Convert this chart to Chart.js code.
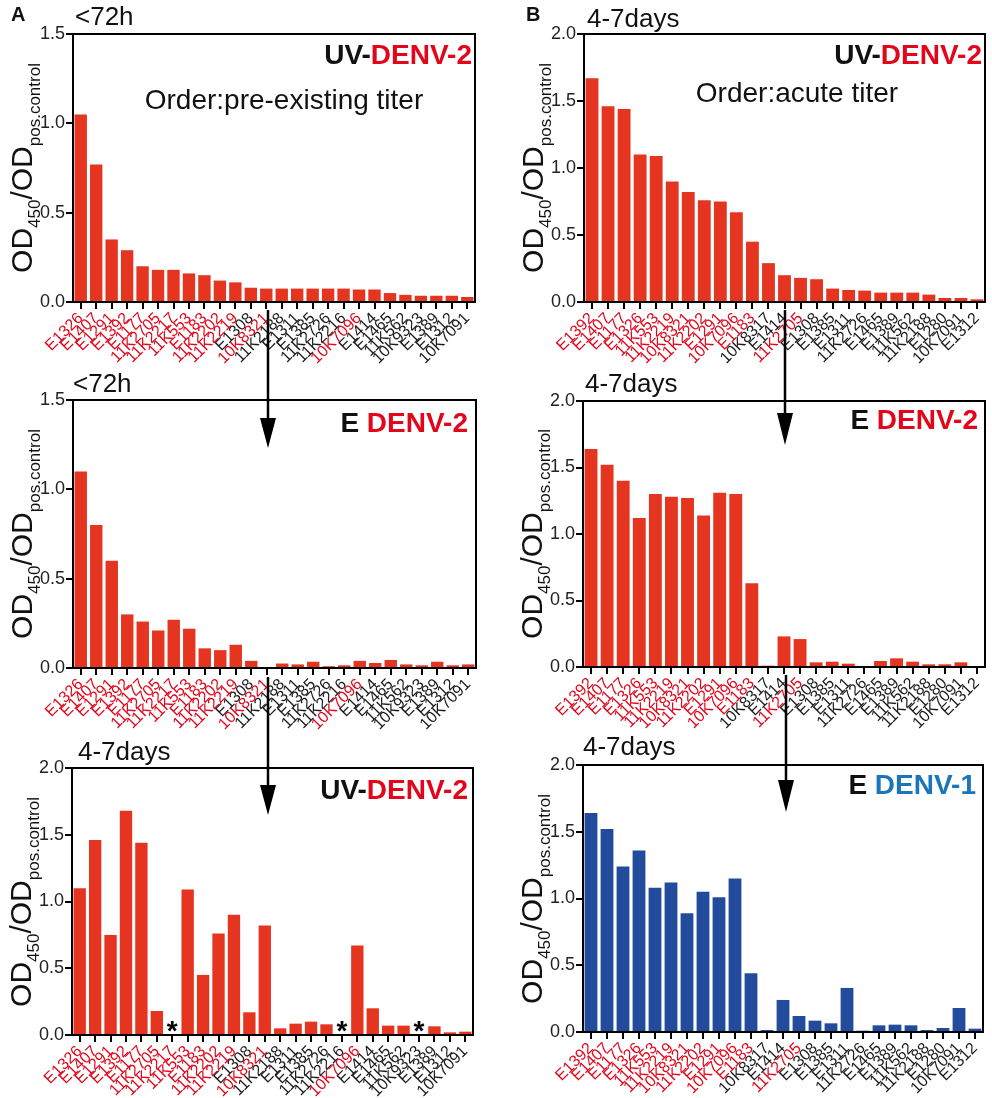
<!DOCTYPE html>
<html>
<head>
<meta charset="utf-8">
<script src="https://cdn.jsdelivr.net/npm/chart.js@4.4.1/dist/chart.umd.min.js"></script>
<style>
  html, body { margin: 0; padding: 0; background: #fff; }
  body { width: 992px; height: 1098px; position: relative; overflow: hidden; font-family: "Liberation Sans", Arial, sans-serif; color: #111; }
  .panel { position: absolute; z-index: 1; }
  .txt { position: absolute; line-height: 1; white-space: nowrap; z-index: 3; }
  .letter { font-weight: bold; font-size: 20px; }
  .when { font-size: 26px; }
  .tag { font-weight: bold; font-size: 28px; }
  .order { font-size: 28px; transform: translateX(-50%); }
  .red { color: #e3061b; }
  .blue { color: #1b75bb; }
  .ytitle { position: absolute; z-index: 3; font-size: 30px; line-height: 1; white-space: nowrap; transform: translate(-50%, -50%) rotate(-90deg); }
  .ytitle span { font-size: 17px; vertical-align: -0.45em; }
  svg { position: absolute; left: 0; top: 0; z-index: 2; }
</style>
</head>
<body>

<!-- panel letters and time windows -->
<div class="txt letter" style="left:11px; top:4px">A</div>
<div class="txt letter" style="left:526px; top:4px">B</div>
<div class="txt when" style="left:75px; top:3px">&lt;72h</div>
<div class="txt when" style="left:587px; top:5px">4-7days</div>
<div class="txt when" style="left:73px; top:370px">&lt;72h</div>
<div class="txt when" style="left:585px; top:370px">4-7days</div>
<div class="txt when" style="left:78px; top:738px">4-7days</div>
<div class="txt when" style="left:583px; top:733px">4-7days</div>

<!-- antigen tags -->
<div class="txt tag" style="right:520px; top:41px">UV-<span class="red">DENV-2</span></div>
<div class="txt tag" style="right:10px; top:41px">UV-<span class="red">DENV-2</span></div>
<div class="txt tag" style="right:524px; top:409px">E <span class="red">DENV-2</span></div>
<div class="txt tag" style="right:14px; top:406px">E <span class="red">DENV-2</span></div>
<div class="txt tag" style="right:524px; top:776px">UV-<span class="red">DENV-2</span></div>
<div class="txt tag" style="right:16px; top:771px">E <span class="blue">DENV-1</span></div>

<div class="txt order" style="left:284px; top:86px">Order:pre-existing titer</div>
<div class="txt order" style="left:797px; top:79px">Order:acute titer</div>

<!-- arrows between rows -->
<svg width="992" height="1098">
  <g stroke="#000" stroke-width="2.5">
    <line x1="268" y1="310" x2="268" y2="420"/>
    <line x1="268" y1="677" x2="268" y2="787"/>
    <line x1="785" y1="310" x2="785" y2="415"/>
    <line x1="786" y1="675" x2="786" y2="782"/>
  </g>
  <g fill="#000">
    <polygon points="260,418 276,418 268,448"/>
    <polygon points="260,785 276,785 268,815"/>
    <polygon points="777,413 793,413 785,445"/>
    <polygon points="778,780 794,780 786,812"/>
  </g>
</svg>

<script>
// samples, ordered by pre-existing titer (panel A) and by acute titer (panel B)
const labelsPreExisting = ['E1326', 'E1407', 'E1291', 'E1392', 'E1177', '11K2705', '11K2217', '11K553', 'E1183', '11K2202', '11K2219', 'E1308', '10K8321', '11K2188', 'E1311', 'E1385', '11K2726', '11K2216', '10K7096', 'E1414', 'E1465', '11K562', '10K9323', 'E1389', 'E1312', '10K7091'];
const labelsAcute = ['E1392', 'E1407', 'E1177', 'E1326', '11K553', '11K2219', '10K8321', '11K2202', 'E1291', '10K7096', 'E1183', '10K8317', 'E1414', '11K2705', 'E1308', 'E1385', 'E1311', '11K2726', 'E1465', 'E1389', '11K562', '11K2188', 'E1280', '10K7091', 'E1312'];

// samples written in red on the axes
const redSamples = ['E1326', 'E1407', 'E1291', 'E1392', 'E1177', '11K2705', '11K2217', '11K553', 'E1183', '11K2202', '11K2219', '10K8321', '10K7096'];

// OD450/ODpos.control, null = not tested (*)
const uvDenv2Early = [1.05, 0.77, 0.35, 0.29, 0.20, 0.18, 0.18, 0.16, 0.15, 0.12, 0.11, 0.08, 0.075, 0.075, 0.075, 0.075, 0.075, 0.075, 0.07, 0.07, 0.05, 0.04, 0.035, 0.035, 0.035, 0.028];
const eDenv2Early = [1.10, 0.80, 0.60, 0.30, 0.26, 0.21, 0.27, 0.22, 0.11, 0.10, 0.13, 0.04, 0.005, 0.025, 0.02, 0.035, 0.01, 0.015, 0.04, 0.028, 0.045, 0.02, 0.015, 0.035, 0.015, 0.02];
const uvDenv2LateA = [1.10, 1.46, 0.75, 1.68, 1.44, 0.18, null, 1.09, 0.45, 0.76, 0.90, 0.17, 0.82, 0.05, 0.085, 0.10, 0.08, null, 0.67, 0.20, 0.07, 0.07, null, 0.065, 0.02, 0.025];
const uvDenv2Acute = [1.67, 1.46, 1.44, 1.10, 1.09, 0.90, 0.82, 0.76, 0.75, 0.67, 0.45, 0.29, 0.20, 0.18, 0.17, 0.10, 0.09, 0.085, 0.07, 0.07, 0.07, 0.055, 0.03, 0.03, 0.02];
const eDenv2Acute = [1.64, 1.52, 1.40, 1.12, 1.30, 1.28, 1.27, 1.14, 1.31, 1.30, 0.63, 0.01, 0.23, 0.21, 0.035, 0.04, 0.025, 0.005, 0.045, 0.065, 0.04, 0.02, 0.02, 0.035, 0.005];
const eDenv1Acute = [1.64, 1.52, 1.24, 1.36, 1.08, 1.12, 0.89, 1.05, 1.01, 1.15, 0.44, 0.015, 0.24, 0.12, 0.085, 0.065, 0.33, 0.01, 0.05, 0.055, 0.05, 0.015, 0.03, 0.18, 0.025];

const BAR_RED = '#e5341f';
const BAR_BLUE = '#234b9c';
const LABEL_RED = '#e3061b';

const Y_W = 40;   // room for y tick labels
const X_H = 70;   // room for rotated sample names
const PAD_T = 12;
const PAD_R = 6;

// frame around the plot area
const framePlugin = {
  id: 'frame',
  afterDraw(chart) {
    const { ctx, chartArea: a } = chart;
    ctx.save();
    ctx.strokeStyle = '#000';
    ctx.lineWidth = 2;
    ctx.strokeRect(a.left, a.top, a.right - a.left, a.bottom - a.top);
    ctx.restore();
  }
};

// asterisk for samples without a value
const starPlugin = {
  id: 'stars',
  afterDatasetsDraw(chart) {
    const { ctx, scales } = chart;
    const vals = chart.data.datasets[0].data;
    ctx.save();
    ctx.font = 'bold 28px "Liberation Sans", Arial';
    ctx.fillStyle = '#000';
    ctx.textAlign = 'center';
    ctx.textBaseline = 'alphabetic';
    vals.forEach((v, i) => {
      if (v === null) {
        ctx.fillText('*', scales.x.getPixelForValue(i), scales.y.getPixelForValue(0) + 5);
      }
    });
    ctx.restore();
  }
};

function addYTitle(cx, cy) {
  const d = document.createElement('div');
  d.className = 'ytitle';
  d.style.left = cx + 'px';
  d.style.top = cy + 'px';
  d.innerHTML = 'OD<span>450</span>/OD<span>pos.control</span>';
  document.body.appendChild(d);
}

function makeChart(p) {
  const wrap = document.createElement('div');
  wrap.className = 'panel';
  wrap.style.left = (p.L - Y_W) + 'px';
  wrap.style.top = (p.T - PAD_T) + 'px';
  wrap.style.width = (p.R - p.L + Y_W + PAD_R) + 'px';
  wrap.style.height = (p.B - p.T + PAD_T + X_H) + 'px';
  const cv = document.createElement('canvas');
  wrap.appendChild(cv);
  document.body.appendChild(wrap);

  addYTitle(p.L - 48, (p.T + p.B) / 2);

  return new Chart(cv, {
    type: 'bar',
    data: {
      labels: p.labels,
      datasets: [{
        data: p.values,
        backgroundColor: p.color,
        borderWidth: 0,
        barPercentage: 0.8,
        categoryPercentage: 1
      }]
    },
    options: {
      responsive: true,
      maintainAspectRatio: false,
      animation: false,
      layout: { padding: { top: PAD_T, right: PAD_R, left: 0, bottom: 0 } },
      plugins: { legend: { display: false }, tooltip: { enabled: false } },
      scales: {
        x: {
          offset: true,
          grid: { offset: false, drawOnChartArea: false, tickLength: 7, color: '#000', lineWidth: 2 },
          border: { display: true, color: '#000', width: 2 },
          ticks: {
            autoSkip: false,
            minRotation: 45,
            maxRotation: 45,
            padding: 0,
            font: { family: '"Liberation Sans", Arial', size: 16 },
            color: (c) => redSamples.includes(p.labels[c.index]) ? LABEL_RED : '#1a1a1a'
          },
          afterFit: (s) => { s.height = X_H; s.paddingLeft = 0; s.paddingRight = 0; }
        },
        y: {
          min: 0,
          max: p.max,
          grid: { drawOnChartArea: false, tickLength: 7, color: '#000', lineWidth: 2 },
          border: { display: true, color: '#000', width: 2 },
          ticks: {
            stepSize: 0.5,
            padding: 1,
            font: { family: '"Liberation Sans", Arial', size: 18 },
            color: '#222',
            callback: (v) => v.toFixed(1)
          },
          afterFit: (s) => { s.width = Y_W; s.paddingTop = 0; s.paddingBottom = 0; }
        }
      }
    },
    plugins: [framePlugin, starPlugin]
  });
}

makeChart({ labels: labelsPreExisting, values: uvDenv2Early, color: BAR_RED, max: 1.5, L: 73, T: 34, R: 475, B: 302 });
makeChart({ labels: labelsAcute, values: uvDenv2Acute, color: BAR_RED, max: 2.0, L: 584, T: 34, R: 985, B: 302 });
makeChart({ labels: labelsPreExisting, values: eDenv2Early, color: BAR_RED, max: 1.5, L: 73, T: 400, R: 476, B: 668 });
makeChart({ labels: labelsAcute, values: eDenv2Acute, color: BAR_RED, max: 2.0, L: 583, T: 401, R: 985, B: 667 });
makeChart({ labels: labelsPreExisting, values: uvDenv2LateA, color: BAR_RED, max: 2.0, L: 72, T: 768, R: 473, B: 1035 });
makeChart({ labels: labelsAcute, values: eDenv1Acute, color: BAR_BLUE, max: 2.0, L: 583, T: 765, R: 983, B: 1032 });
</script>
</body>
</html>
